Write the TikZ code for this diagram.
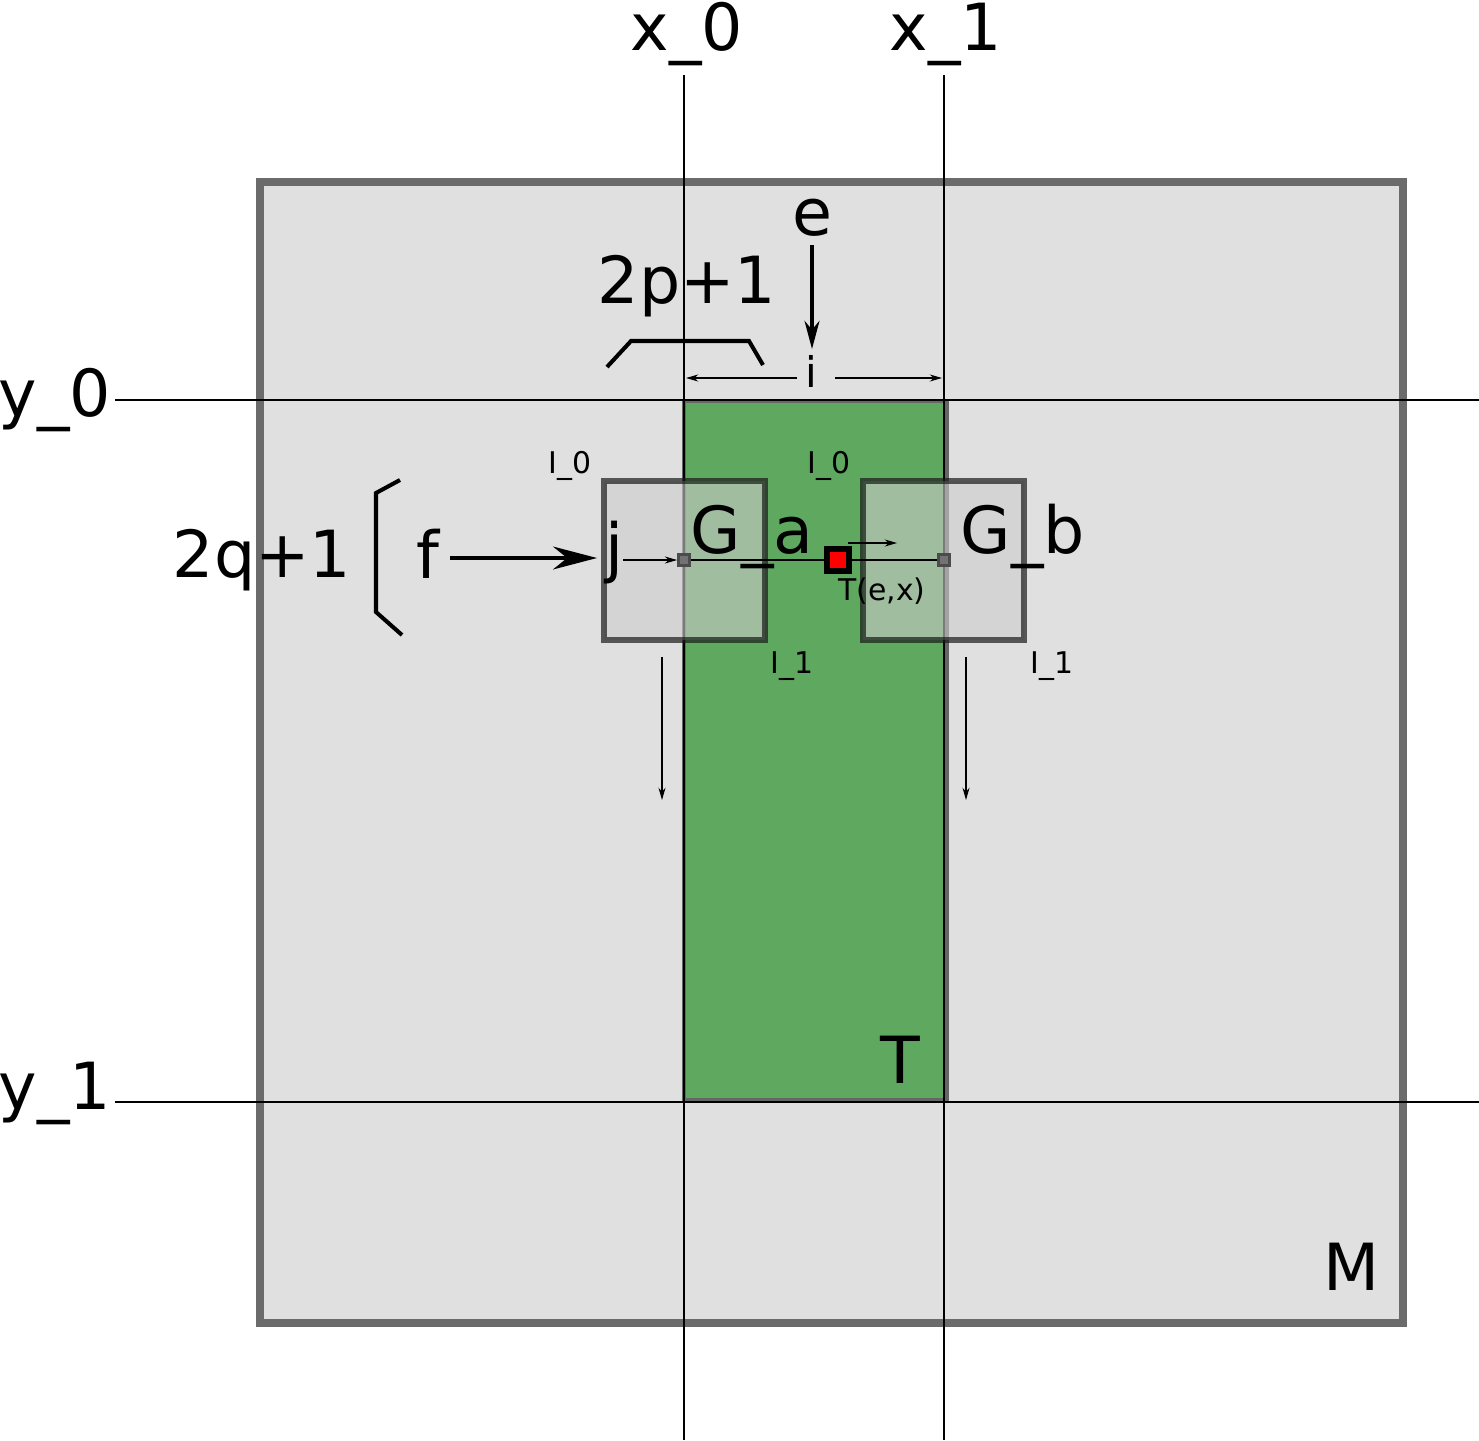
\documentclass[tikz,border=0pt]{standalone}
\usepackage{fontspec}
\setmainfont{DejaVu Sans}
\usetikzlibrary{arrows.meta}
\definecolor{mfill}{HTML}{E0E0E0}
\definecolor{mborder}{HTML}{6B6B6B}
\definecolor{tgreen}{HTML}{5FA85F}
\definecolor{gfill}{HTML}{CCCCCC}
\definecolor{gborder}{HTML}{1A1A1A}

\begin{document}
\begin{tikzpicture}[x=0.02cm, y=-0.02cm,
    big/.style={font=\fontsize{37}{40}\selectfont, inner sep=0pt, anchor=base},
    small/.style={font=\fontsize{17}{20}\selectfont, inner sep=0pt, anchor=base},
    guide/.style={line width=0.8pt},
    gbox/.style={line width=3.4pt, draw=gborder, draw opacity=0.7, fill=gfill, fill opacity=0.6},
    brace/.style={line width=2.3pt},
    thinarrow/.style={line width=0.6pt, -{Stealth[length=7pt,width=4pt]}},
    bigarrow/.style={line width=2.3pt, -{Stealth[length=25pt,width=13pt,inset=8pt]}},
    endsq/.style={draw=black!70, fill=black!55, line width=1.6pt, minimum size=0.22cm, inner sep=0pt}]
    \useasboundingbox (0,0) rectangle (1479,1440);

    % matrix M
    \draw[line width=4.5pt, draw=mborder, fill=mfill] (260,182) rectangle (1403,1323);
    % tile T
    \draw[line width=2.3pt, draw=black!60, fill=tgreen] (684,401) rectangle (947,1100);

    % guide lines
    \coordinate (x0top) at (684,75);  \coordinate (x0bot) at (684,1440);
    \coordinate (x1top) at (944,75);  \coordinate (x1bot) at (944,1440);
    \coordinate (y0left) at (115,400);  \coordinate (y0right) at (1479,400);
    \coordinate (y1left) at (115,1102); \coordinate (y1right) at (1479,1102);
    \draw[guide] (x0top) -- (x0bot) (x1top) -- (x1bot);
    \draw[guide] (y0left) -- (y0right) (y1left) -- (y1right);

    \node[big] (x0) at (687,50) {x\_0};
    \node[big] (x1) at (946,50) {x\_1};
    \node[big] (y0) at (55,416) {y\_0};
    \node[big] (y1) at (55,1109) {y\_1};

    % neighbourhoods G_a and G_b
    \draw[gbox] (604,481) rectangle (765,640);
    \draw[gbox] (863,481) rectangle (1024,640);

    \node[big] (Ga) at (752,553) {G\_a};
    \node[big] (Gb) at (1023,553) {G\_b};
    \node[small] (I0a) at (570,473) {I\_0};
    \node[small] (I0b) at (829,473) {I\_0};
    \node[small] (I1a) at (792,673) {I\_1};
    \node[small] (I1b) at (1052,673) {I\_1};

    % row through the point
    \node[endsq] (lsq) at (684,560) {};
    \node[endsq] (rsq) at (944,560) {};
    \draw[guide] (lsq) -- (rsq);
    \node[draw=black, line width=3.4pt, fill=red, minimum size=0.44cm, inner sep=0pt] (pt) at (838,560) {};
    \node[small] (Tex) at (882,600) {T(e,x)};
    \coordinate (movea) at (848,543);
    \coordinate (moveb) at (897,543);
    \draw[thinarrow] (movea) -- (moveb);

    % j and f
    \node[big] (j) at (615,570) {j};
    \coordinate (jstart) at (623,560);
    \draw[thinarrow] (jstart) -- (lsq.west);
    \node[big] (f) at (428,578) {f};
    \coordinate (fstart) at (450,558);
    \coordinate (fend) at (597,558);
    \draw[bigarrow] (fstart) -- (fend);

    % bracket 2q+1
    \draw[brace] (400,480) -- (376,493) -- (376,612) -- (402,635);
    \node[big] (q) at (262,577) {2q+1};

    % bracket 2p+1
    \draw[brace] (607,367) -- (631,341) -- (749,341) -- (763,365);
    \node[big] (p) at (687,303) {2p+1};

    % e and i
    \node[big] (e) at (812,235) {e};
    \node[font=\fontsize{24}{26}\selectfont, inner sep=0pt, anchor=base] (i) at (811,387) {i};
    \coordinate (estart) at (812,245);
    \coordinate (eend) at (812,349);
    \draw[line width=1.9pt, -{Stealth[length=16pt,width=8.5pt,inset=5pt]}] (estart) -- (eend);
    \coordinate (ileft) at (797,378);
    \coordinate (iright) at (835,378);
    \coordinate (ilend) at (686,378);
    \coordinate (irend) at (942,378);
    \draw[thinarrow] (ileft) -- (ilend);
    \draw[thinarrow] (iright) -- (irend);

    % sliding downwards
    \coordinate (da1) at (662,657); \coordinate (da2) at (662,800);
    \coordinate (db1) at (966,657); \coordinate (db2) at (966,800);
    \draw[thinarrow] (da1) -- (da2);
    \draw[thinarrow] (db1) -- (db2);

    \node[big] (T) at (900,1083) {T};
    \node[big] (M) at (1352,1290) {M};
\end{tikzpicture}
\end{document}
